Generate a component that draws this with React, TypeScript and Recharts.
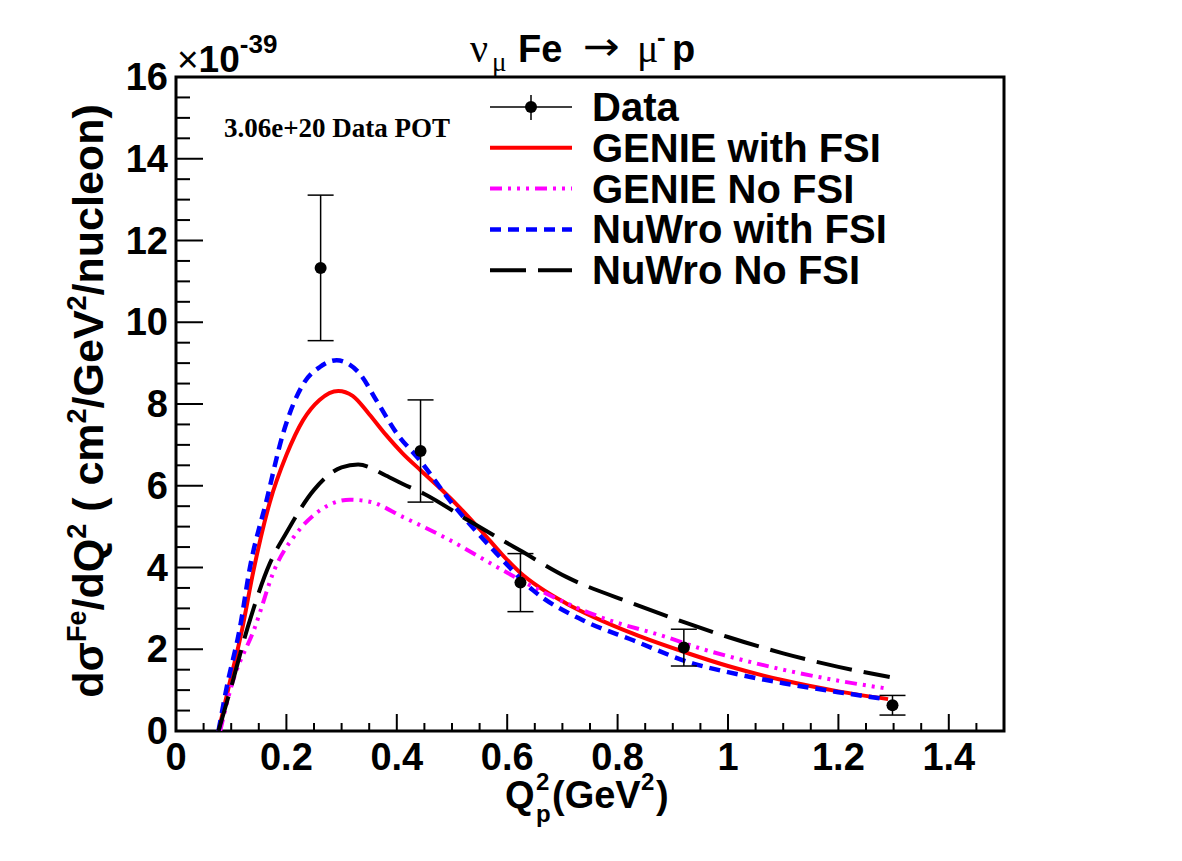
import { ComposedChart, Line, Scatter, ErrorBar, XAxis, YAxis, ReferenceArea } from "recharts"

// measured points (Q2 in GeV^2, cross section in 1e-39 cm2/GeV2/nucleon)
const dataQ2 = [0.262, 0.443, 0.624, 0.920, 1.298]
const dataXs = [11.33, 6.85, 3.63, 2.04, 0.63]
const dataErr = [1.78, 1.25, 0.71, 0.45, 0.24]

const genieFsi = [
    { q: 0.077, v: 0 }, { q: 0.095, v: 1.05 }, { q: 0.12, v: 2.5 }, { q: 0.14, v: 3.9 },
    { q: 0.17, v: 5.6 }, { q: 0.2, v: 6.75 }, { q: 0.23, v: 7.6 }, { q: 0.26, v: 8.1 },
    { q: 0.294, v: 8.32 }, { q: 0.32, v: 8.2 }, { q: 0.35, v: 7.75 }, { q: 0.38, v: 7.25 },
    { q: 0.41, v: 6.8 }, { q: 0.443, v: 6.38 }, { q: 0.48, v: 5.92 }, { q: 0.52, v: 5.38 },
    { q: 0.556, v: 4.85 }, { q: 0.59, v: 4.33 }, { q: 0.623, v: 3.88 }, { q: 0.66, v: 3.5 },
    { q: 0.707, v: 3.12 }, { q: 0.828, v: 2.38 }, { q: 0.93, v: 1.89 },
    { q: 1.0, v: 1.59 }, { q: 1.1, v: 1.24 }, { q: 1.2, v: 0.97 }, { q: 1.29, v: 0.78 },
]

const genieNoFsi = [
    { q: 0.08, v: 0 }, { q: 0.1, v: 1.08 }, { q: 0.143, v: 2.54 }, { q: 0.18, v: 4.0 },
    { q: 0.218, v: 4.83 }, { q: 0.261, v: 5.4 }, { q: 0.315, v: 5.66 }, { q: 0.351, v: 5.61 },
    { q: 0.412, v: 5.23 }, { q: 0.496, v: 4.67 }, { q: 0.587, v: 3.97 }, { q: 0.677, v: 3.32 },
    { q: 0.768, v: 2.79 }, { q: 0.888, v: 2.3 }, { q: 0.95, v: 2.02 }, { q: 1.0, v: 1.83 },
    { q: 1.1, v: 1.5 }, { q: 1.2, v: 1.23 }, { q: 1.287, v: 1.04 },
]

const nuwroFsi = [
    { q: 0.077, v: 0 }, { q: 0.092, v: 1.08 }, { q: 0.116, v: 2.54 }, { q: 0.134, v: 4.0 },
    { q: 0.164, v: 5.64 }, { q: 0.194, v: 7.28 }, { q: 0.231, v: 8.5 }, { q: 0.26, v: 8.9 },
    { q: 0.291, v: 9.07 }, { q: 0.31, v: 9.0 }, { q: 0.333, v: 8.74 }, { q: 0.363, v: 8.09 },
    { q: 0.4, v: 7.28 }, { q: 0.442, v: 6.62 }, { q: 0.496, v: 5.64 }, { q: 0.581, v: 4.34 },
    { q: 0.647, v: 3.44 }, { q: 0.737, v: 2.71 }, { q: 0.828, v: 2.22 }, { q: 0.937, v: 1.65 },
    { q: 1.0, v: 1.44 }, { q: 1.1, v: 1.17 }, { q: 1.2, v: 0.95 }, { q: 1.285, v: 0.78 },
]

const nuwroNoFsi = [
    { q: 0.077, v: 0 }, { q: 0.1, v: 1.08 }, { q: 0.13, v: 2.54 }, { q: 0.17, v: 4.1 },
    { q: 0.2, v: 4.85 }, { q: 0.25, v: 5.9 }, { q: 0.3, v: 6.45 }, { q: 0.33, v: 6.52 },
    { q: 0.38, v: 6.25 }, { q: 0.41, v: 6.05 }, { q: 0.45, v: 5.8 }, { q: 0.53, v: 5.15 },
    { q: 0.623, v: 4.42 }, { q: 0.707, v: 3.77 }, { q: 0.828, v: 3.12 }, { q: 0.919, v: 2.67 },
    { q: 1.0, v: 2.3 }, { q: 1.1, v: 1.9 }, { q: 1.2, v: 1.57 }, { q: 1.293, v: 1.32 },
]

const xMajor = [0, 0.2, 0.4, 0.6, 0.8, 1, 1.2, 1.4]
const yMajor = [0, 2, 4, 6, 8, 10, 12, 14, 16]
const xTicks = Array.from({ length: 31 }, (_, i) => Math.round(i * 5) / 100)
const yTicks = Array.from({ length: 33 }, (_, i) => i / 2)

const dataPoints = dataQ2.map((q, i) => ({ q, v: dataXs[i], err: dataErr[i] }))

const FONT = "'Liberation Sans', Arial, Helvetica, sans-serif"
const SERIF = "'Liberation Serif', 'DejaVu Serif', serif"

const isMajor = (v: number, list: number[]) => list.some(m => Math.abs(m - v) < 1e-6)

const XTick = (props: any) => {
    const { x, y, payload } = props
    const major = isMajor(payload.value, xMajor)
    return (
        <g>
            <line x1={x} x2={x} y1={y} y2={y - (major ? 17 : 8)} stroke="#000" strokeWidth={2} />
            {major && (
                <text x={x} y={y + 39} textAnchor="middle" fontFamily={FONT} fontWeight="bold" fontSize={38} fill="#000">
                    {String(Math.round(payload.value * 10) / 10)}
                </text>
            )}
        </g>
    )
}

const YTick = (props: any) => {
    const { x, y, payload } = props
    const major = isMajor(payload.value, yMajor)
    return (
        <g>
            <line x1={x} x2={x + (major ? 27 : 14)} y1={y} y2={y} stroke="#000" strokeWidth={2} />
            {major && (
                <text x={x - 8} y={y + 13} textAnchor="end" fontFamily={FONT} fontWeight="bold" fontSize={38} fill="#000">
                    {payload.value}
                </text>
            )}
        </g>
    )
}

const Dot = (props: any) => <circle cx={props.cx} cy={props.cy} r={6} fill="#000" />

const legendRows = [
    { label: "Data", color: "#000", dash: "", width: 1.5 },
    { label: "GENIE with FSI", color: "#ff0000", dash: "", width: 4 },
    { label: "GENIE No FSI", color: "#ff00ff", dash: "12 6 3 6 3 6 3 6", width: 4 },
    { label: "NuWro with FSI", color: "#0000ff", dash: "11 7", width: 4.5 },
    { label: "NuWro No FSI", color: "#000", dash: "36 12", width: 4 },
]

export default function App() {
    return (
        <div style={{ position: "absolute", left: 0, top: 0, width: 1182, height: 861, background: "#fff" }}>
            <ComposedChart width={1182} height={861} margin={{ top: 77, right: 178, bottom: 70, left: 116 }}>
                <XAxis
                    type="number"
                    dataKey="q"
                    domain={[0, 1.5]}
                    ticks={xTicks}
                    interval={0}
                    tick={XTick}
                    tickLine={false}
                    axisLine={false}
                    tickSize={0}
                    tickMargin={0}
                    height={60}
                    allowDataOverflow
                />
                <YAxis
                    type="number"
                    domain={[0, 16]}
                    ticks={yTicks}
                    interval={0}
                    tick={YTick}
                    tickLine={false}
                    axisLine={false}
                    tickSize={0}
                    tickMargin={0}
                    width={60}
                    allowDataOverflow
                />
                <ReferenceArea x1={0} x2={1.5} y1={0} y2={16} fill="none" stroke="#000" strokeWidth={3} ifOverflow="visible" />
                <Line data={genieFsi} dataKey="v" type="monotone" stroke="#ff0000" strokeWidth={4} dot={false} isAnimationActive={false} />
                <Line data={genieNoFsi} dataKey="v" type="monotone" stroke="#ff00ff" strokeWidth={4} strokeDasharray="12 6 3 6 3 6 3 6" dot={false} isAnimationActive={false} />
                <Line data={nuwroFsi} dataKey="v" type="monotone" stroke="#0000ff" strokeWidth={4.5} strokeDasharray="11 7" dot={false} isAnimationActive={false} />
                <Line data={nuwroNoFsi} dataKey="v" type="monotone" stroke="#000" strokeWidth={4} strokeDasharray="36 12" dot={false} isAnimationActive={false} />
                <Scatter data={dataPoints} dataKey="v" fill="#000" shape={<Dot />} isAnimationActive={false}>
                    <ErrorBar dataKey="err" direction="y" width={13} stroke="#000" strokeWidth={1.5} isAnimationActive={false} />
                </Scatter>
            </ComposedChart>

            <svg width={1182} height={861} style={{ position: "absolute", left: 0, top: 0, pointerEvents: "none" }}>
                {/* title */}
                <g fill="#000">
                    <text x={470} y={62} fontFamily={SERIF} fontSize={40}>ν</text>
                    <text x={492} y={71} fontFamily={SERIF} fontSize={27}>μ</text>
                    <text x={518} y={62} fontFamily={FONT} fontWeight="bold" fontSize={38}>Fe</text>
                    <text x={583} y={60} fontFamily="'DejaVu Sans', sans-serif" fontSize={40} textLength={37} lengthAdjust="spacingAndGlyphs">→</text>
                    <text x={637} y={62} fontFamily={SERIF} fontSize={40}>μ</text>
                    <text x={657} y={46} fontFamily={FONT} fontWeight="bold" fontSize={26}>-</text>
                    <text x={672} y={62} fontFamily={FONT} fontWeight="bold" fontSize={38}>p</text>
                </g>

                {/* exponent */}
                <text x={177} y={72} fontFamily={FONT} fontWeight="bold" fontSize={37} fill="#000">
                    <tspan fontWeight="normal">×</tspan>10<tspan fontSize={26} dy={-19}>-39</tspan>
                </text>

                <text x={224} y={137} fontFamily={SERIF} fontWeight="bold" fontSize={27} fill="#000">
                    3.06e+20 Data POT
                </text>

                {/* x title */}
                <g fontFamily={FONT} fontWeight="bold" fill="#000">
                    <text x={505} y={808} fontSize={38}>Q</text>
                    <text x={536} y={790} fontSize={24}>2</text>
                    <text x={536} y={822} fontSize={24}>p</text>
                    <text x={552} y={808} fontSize={38}>(GeV</text>
                    <text x={641} y={790} fontSize={24}>2</text>
                    <text x={656} y={808} fontSize={38}>)</text>
                </g>

                {/* y title */}
                <text transform="translate(103, 401) rotate(-90)" x={0} y={0} textAnchor="middle" fontFamily={FONT} fontWeight="bold" fontSize={43} fill="#000">
                    dσ<tspan fontSize={27} dy={-17}>Fe</tspan>
                    <tspan dy={17}>/dQ</tspan>
                    <tspan fontSize={27} dy={-17}>2</tspan>
                    <tspan dy={17}> ( cm</tspan>
                    <tspan fontSize={27} dy={-17}>2</tspan>
                    <tspan dy={17}>/GeV</tspan>
                    <tspan fontSize={27} dy={-17}>2</tspan>
                    <tspan dy={17}>/nucleon)</tspan>
                </text>

                {/* legend */}
                {legendRows.map((row, i) => {
                    const cy = 107 + i * 40.8
                    return (
                        <g key={row.label}>
                            <line x1={490} x2={572} y1={cy} y2={cy} stroke={row.color} strokeWidth={row.width} strokeDasharray={row.dash || undefined} />
                            {i === 0 && (
                                <>
                                    <line x1={531} x2={531} y1={cy - 12} y2={cy + 13} stroke="#000" strokeWidth={1.5} />
                                    <circle cx={531} cy={cy} r={6} fill="#000" />
                                </>
                            )}
                            <text x={592} y={cy + 14} fontFamily={FONT} fontWeight="bold" fontSize={40} fill="#000">
                                {row.label}
                            </text>
                        </g>
                    )
                })}
            </svg>
        </div>
    )
}
